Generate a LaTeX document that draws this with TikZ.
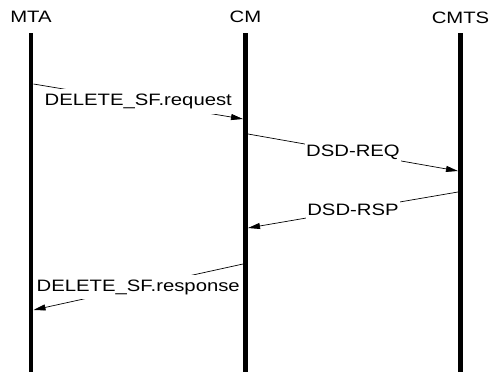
\documentclass[tikz,border=0pt]{standalone}
\usepackage{fontspec}
\setmainfont{Liberation Sans}[FakeStretch=1.23]
\usetikzlibrary{arrows.meta}
\begin{document}
\begin{tikzpicture}[x=1pt,y=-1pt,
  every node/.style={font=\fontsize{16.5}{19}\selectfont},
  lifeline/.style={line width=4.5pt},
  msg/.style={line width=0.7pt,-{Triangle[length=12pt,width=6pt]}},
  msglabel/.style={fill=white,inner xsep=1.5pt,inner ysep=5pt,midway}]
\useasboundingbox (0,0) rectangle (491,372);
% headers
\node (mta) at (31,17) {MTA};
\node (cm) at (245.5,17) {CM};
\node (cmts) at (460.5,18) {CMTS};
% lifelines
\coordinate (mtaT) at (31,33);   \coordinate (mtaB) at (31,372);
\coordinate (cmT) at (245.5,33); \coordinate (cmB) at (245.5,372);
\coordinate (cmtsT) at (460.5,33); \coordinate (cmtsB) at (460.5,372);
\draw[lifeline] (mtaT) -- (mtaB);
\draw[lifeline] (cmT) -- (cmB);
\draw[lifeline] (cmtsT) -- (cmtsB);
% message endpoints
\coordinate (a1) at (33.5,84);  \coordinate (b1) at (243,119);
\coordinate (a2) at (248,134);  \coordinate (b2) at (458,171);
\coordinate (a3) at (458,192);  \coordinate (b3) at (248,228);
\coordinate (a4) at (243,264);  \coordinate (b4) at (33.5,310);
\draw[msg] (a1) -- node[msglabel] (l1) {DELETE\_SF.request} (b1);
\draw[msg] (a2) -- node[msglabel] (l2) {DSD-REQ} (b2);
\draw[msg] (a3) -- node[msglabel] (l3) {DSD-RSP} (b3);
\draw[msg] (a4) -- node[msglabel] (l4) {DELETE\_SF.response} (b4);
\end{tikzpicture}
\end{document}
